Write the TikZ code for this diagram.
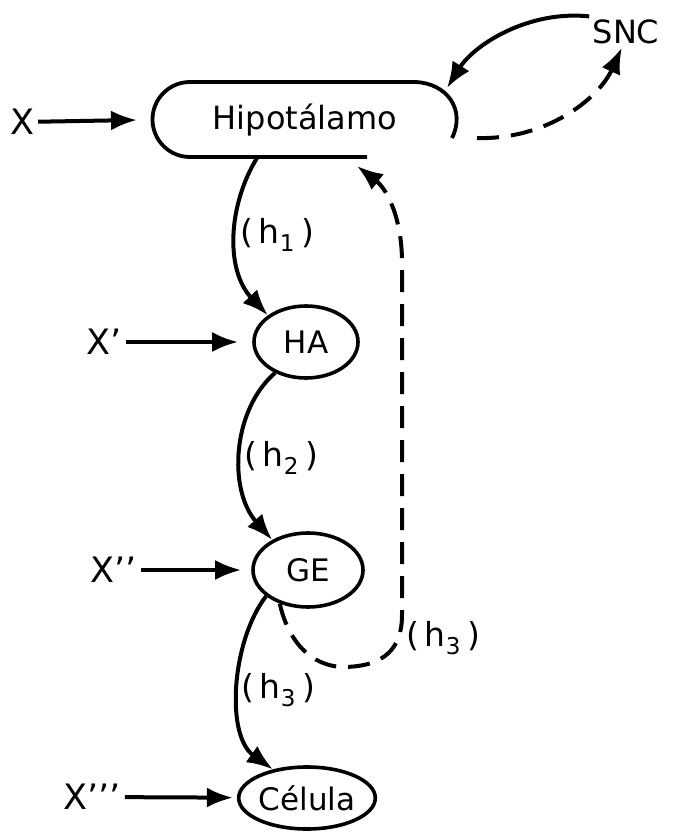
\documentclass[tikz,border=0pt]{standalone}
\usepackage{fontspec}
\setmainfont{DejaVu Sans}
\usetikzlibrary{arrows.meta,shapes.geometric}

\begin{document}
\begin{tikzpicture}[x=1pt,y=-1pt,
  big/.style={font=\fontsize{32}{38}\selectfont},
  inp/.style={font=\fontsize{35}{40}\selectfont, inner sep=4pt},
  gland/.style={draw, ellipse, line width=3.6pt, inner sep=0pt, font=\fontsize{31}{36}\selectfont},
  hlabel/.style={font=\fontsize{33}{38}\selectfont},
  arr/.style={line width=4pt, -{Latex[length=26pt,width=20pt]}},
  fb/.style={arr, dash pattern=on 22pt off 12pt}]
\useasboundingbox (0,0) rectangle (693,832);

% hypothalamus, outline left open at the lower right
\draw[line width=3.8pt] (367,157) -- (190,157) arc[start angle=90, end angle=270, radius=37.5]
  -- (415,82) .. controls (447,83) and (466,110) .. (452,138);
\node[big] (hip) at (305,120) {Hipotálamo};
\coordinate (hl) at (137,120);
\coordinate (ht) at (447,88);
\coordinate (hr) at (477,138);
\coordinate (hb) at (257,158);
\coordinate (hf) at (357,166);

\node[big] (snc) at (626,32) {SNC};

\node[gland, minimum width=104pt, minimum height=72pt] (ha) at (306,342) {HA};
\node[gland, minimum width=110pt, minimum height=74pt] (ge) at (308,570) {GE};
\node[gland, minimum width=110pt, minimum height=62pt] (cel) at (307,798) {Célula};

\node[inp] (x0) at (22,122) {X};
\node[inp] (x1) at (104,342) {X’};
\node[inp] (x2) at (114,570) {X’’};
\node[inp] (x3) at (92,797) {X’’’};

% inputs
\draw[arr] (x0) -- (hl);
\draw[arr, shorten >=14pt] (x1) -- (ha);
\draw[arr, shorten >=10pt] (x2) -- (ge);
\draw[arr, shorten >=4pt] (x3) -- (cel);

% central nervous system loop
\draw[arr] (snc.north west) .. controls (528,10) and (474,45) .. (ht);
\draw[fb] (hr) .. controls (545,140) and (598,100) .. (snc.255);

% hormone chain
\draw[arr] (hb) .. controls (228,205) and (225,270) .. (ha.145);
\draw[arr] (ha.225) .. controls (232,410) and (228,490) .. (ge.140);
\draw[arr] (ge.212) .. controls (232,640) and (225,735) .. (cel.140);
\node[hlabel] (h1) at (277,235) {(\kern6pt h\textsubscript{1}\kern6pt)};
\node[hlabel] (h2) at (281,458) {(\kern6pt h\textsubscript{2}\kern6pt)};
\node[hlabel] (h3) at (278,690) {(\kern6pt h\textsubscript{3}\kern6pt)};

% feedback to the hypothalamus
\draw[fb] (ge.230) .. controls (288,640) and (310,667) .. (345,667)
  .. controls (385,666) and (402,648) .. (402,615) -- (402,262)
  .. controls (402,220) and (388,190) .. (hf);
\node[hlabel] (h4) at (443,638) {(\kern6pt h\textsubscript{3}\kern6pt)};
\end{tikzpicture}
\end{document}
